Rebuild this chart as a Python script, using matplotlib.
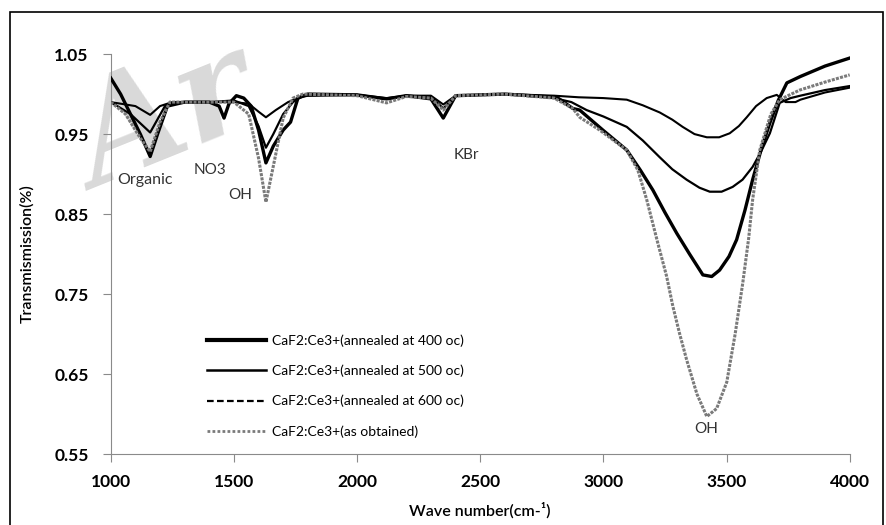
import matplotlib
matplotlib.use('Agg')
import matplotlib.pyplot as plt
from matplotlib.lines import Line2D
from matplotlib.patches import Rectangle

plt.rcParams['font.family'] = ['Lato', 'DejaVu Sans']

# ---- data (wave number cm-1, transmission) ----
x_600 = [1000, 1100, 1160, 1200, 1250, 1400, 1500, 1560, 1600, 1630, 1670, 1720, 1760, 1800,
         2000, 2120, 2200, 2300, 2350, 2400, 2600, 2800, 2900, 3000, 3095, 3160, 3229, 3280,
         3322, 3370, 3420, 3470, 3513, 3550, 3582, 3620, 3663, 3704, 3740, 3780, 3800, 3900, 4000]
t_600 = [0.990, 0.985, 0.974, 0.985, 0.990, 0.990, 0.990, 0.988, 0.978, 0.971, 0.980, 0.990, 0.995, 0.998,
         0.999, 0.995, 0.998, 0.998, 0.987, 0.998, 1.000, 0.998, 0.996, 0.995, 0.993, 0.986, 0.977, 0.968,
         0.959, 0.950, 0.946, 0.946, 0.951, 0.960, 0.971, 0.985, 0.995, 0.999, 0.990, 0.990, 0.993, 1.002, 1.008]

x_500 = [1000, 1080, 1160, 1220, 1260, 1400, 1500, 1560, 1600, 1630, 1660, 1700, 1740, 1780,
         2000, 2120, 2200, 2300, 2350, 2400, 2600, 2800, 2870, 2932, 3000, 3095, 3160, 3229, 3280,
         3338, 3390, 3432, 3480, 3525, 3565, 3606, 3640, 3676, 3716, 3760, 3800, 3900, 4000]
t_500 = [0.990, 0.975, 0.952, 0.985, 0.990, 0.990, 0.992, 0.985, 0.960, 0.933, 0.950, 0.975, 0.990, 0.998,
         0.999, 0.994, 0.998, 0.997, 0.982, 0.998, 1.000, 0.995, 0.990, 0.980, 0.972, 0.959, 0.942, 0.921, 0.906,
         0.893, 0.883, 0.878, 0.878, 0.884, 0.893, 0.909, 0.928, 0.951, 0.989, 0.995, 0.998, 1.005, 1.010]

x_400 = [1000, 1040, 1080, 1120, 1160, 1190, 1230, 1300, 1400, 1440, 1460, 1480, 1510, 1540, 1570,
         1600, 1630, 1660, 1700, 1730, 1760, 1800, 2000, 2120, 2200, 2300, 2350, 2400, 2600, 2811,
         2876, 2904, 2998, 3095, 3150, 3201, 3250, 3298, 3350, 3404, 3440, 3472, 3510, 3541, 3575,
         3606, 3640, 3676, 3710, 3745, 3800, 3900, 4000]
t_400 = [1.020, 1.000, 0.975, 0.950, 0.922, 0.950, 0.985, 0.990, 0.990, 0.985, 0.970, 0.988, 0.998, 0.995, 0.985,
         0.955, 0.914, 0.935, 0.955, 0.965, 0.995, 1.000, 0.999, 0.994, 0.998, 0.994, 0.970, 0.998, 1.000, 0.996,
         0.982, 0.980, 0.955, 0.930, 0.905, 0.880, 0.852, 0.826, 0.800, 0.774, 0.772, 0.780, 0.797, 0.818, 0.855,
         0.893, 0.930, 0.964, 0.992, 1.014, 1.022, 1.035, 1.045]

x_raw = [1000, 1060, 1120, 1160, 1200, 1240, 1400, 1500, 1560, 1600, 1630, 1660, 1700, 1740, 1780,
         2000, 2120, 2200, 2300, 2350, 2400, 2600, 2800, 2876, 2904, 2985, 3095, 3140, 3176, 3220,
         3257, 3282, 3310, 3338, 3380, 3420, 3460, 3501, 3535, 3566, 3590, 3606, 3635, 3680, 3716,
         3797, 3900, 4000]
t_raw = [0.990, 0.975, 0.945, 0.928, 0.965, 0.990, 0.990, 0.990, 0.975, 0.920, 0.865, 0.910, 0.970, 0.995, 1.000,
         0.998, 0.989, 0.997, 0.995, 0.980, 0.998, 1.000, 0.995, 0.982, 0.971, 0.955, 0.930, 0.905, 0.868, 0.815,
         0.772, 0.735, 0.700, 0.668, 0.625, 0.597, 0.607, 0.640, 0.700, 0.764, 0.820, 0.868, 0.930, 0.975, 0.993,
         1.005, 1.015, 1.024]

labels = ['CaF2:Ce3+(annealed at 400 oc)', 'CaF2:Ce3+(annealed at 500 oc)',
          'CaF2:Ce3+(annealed at 600 oc)', 'CaF2:Ce3+(as obtained)']

fig = plt.figure(figsize=(8.86, 5.25), dpi=100)
ax = fig.add_axes([0.125, 0.135, 0.834, 0.762])
ax.set_zorder(2)
ax.set_facecolor('none')

# watermark behind the plot
fig.text(0.065, 0.64, 'Ar', fontsize=100, color='#d9d9d9', rotation=22, family='DejaVu Serif',
         fontweight='bold', style='italic', zorder=1)

ax.plot(x_600, t_600, color='black', lw=1.5, zorder=3)
ax.plot(x_500, t_500, color='black', lw=1.6, zorder=3)
ax.plot(x_400, t_400, color='black', lw=2.4, zorder=4)
ax.plot(x_raw, t_raw, color='#7a7a7a', lw=2.2, linestyle=(0, (1, 0.4)), zorder=5)

ax.set_xlim(1000, 4000)
ax.set_ylim(0.55, 1.05)
ax.set_xticks([1000, 1500, 2000, 2500, 3000, 3500, 4000])
ax.set_yticks([0.55, 0.65, 0.75, 0.85, 0.95, 1.05])
ax.set_yticklabels(['0.55', '0.65', '0.75', '0.85', '0.95', '1.05'])
for s in ['top', 'right']:
    ax.spines[s].set_visible(False)
for s in ['left', 'bottom']:
    ax.spines[s].set_color('#8a8a8a')
ax.tick_params(axis='both', colors='#8a8a8a', length=6, labelcolor='black', labelsize=12.5)
ax.tick_params(axis='x', pad=8)
ax.tick_params(axis='y', pad=10)
for t in ax.get_xticklabels() + ax.get_yticklabels():
    t.set_fontweight('bold')

ax.set_ylabel('Transmismission(%)', fontsize=11.5, fontweight='semibold', labelpad=14)
ax.set_xlabel('Wave number(cm-¹)', fontsize=11.5, fontweight='semibold', labelpad=9)

# peak annotations
ax.text(1138, 0.893, 'Organic', fontsize=11.5, ha='center', va='center', color='#333333')
ax.text(1402, 0.905, 'NO3', fontsize=11, ha='center', va='center', color='#333333')
ax.text(1524, 0.874, 'OH', fontsize=11, ha='center', va='center', color='#333333')
ax.text(2445, 0.924, 'KBr', fontsize=11, ha='center', va='center', color='#333333')
ax.text(3416, 0.582, 'OH', fontsize=11, ha='center', va='center', color='#333333')

handles = [Line2D([], [], color='black', lw=3),
           Line2D([], [], color='black', lw=1.8),
           Line2D([], [], color='black', lw=1.6, linestyle=(0, (3, 1.5))),
           Line2D([], [], color='#7a7a7a', lw=2, linestyle=(0, (1, 0.8)))]
ax.legend(handles, labels, loc='lower left', bbox_to_anchor=(0.113, 0.01), frameon=False,
          fontsize=10, handlelength=4.3, labelspacing=1.27, handletextpad=0.4)

# outer frame of the picture
fig.patches.append(Rectangle((10 / 886, -0.02), 873 / 886, 1.0 - 12 / 525 + 0.02,
                             transform=fig.transFigure, fill=False, edgecolor='black', lw=1.2))

fig.savefig('out.png', dpi=100)
